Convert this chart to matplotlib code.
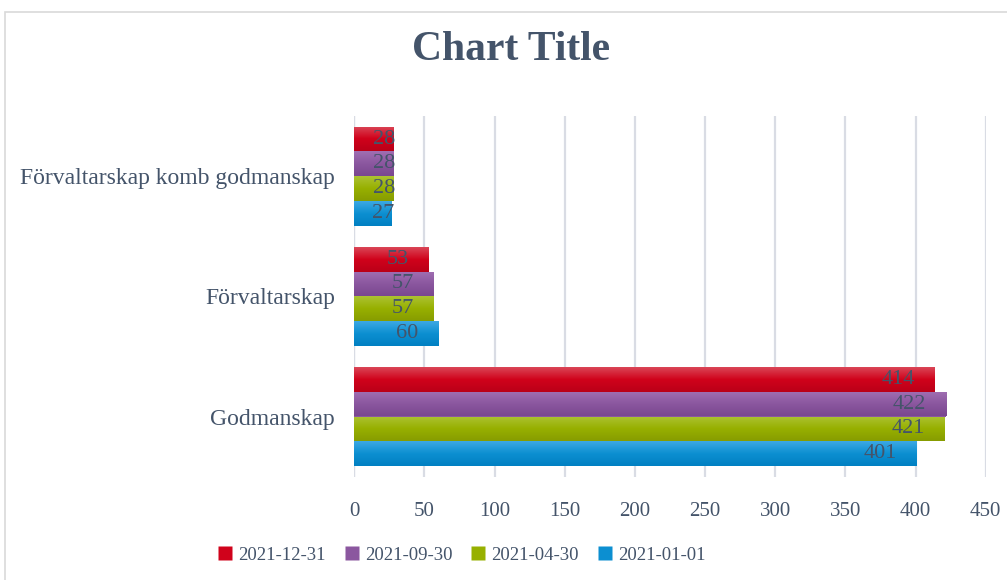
import matplotlib
matplotlib.use("Agg")
import matplotlib.pyplot as plt
import numpy as np
from matplotlib.patches import Rectangle
from matplotlib.lines import Line2D
from matplotlib.colors import LinearSegmentedColormap

categories = ["Godmanskap", "Förvaltarskap", "Förvaltarskap komb godmanskap"]
series_names = ["2021-12-31", "2021-09-30", "2021-04-30", "2021-01-01"]
values = {
    "2021-12-31": [414, 53, 28],
    "2021-09-30": [422, 57, 28],
    "2021-04-30": [421, 57, 28],
    "2021-01-01": [401, 60, 27],
}
colors = {
    "2021-12-31": ("#DA4556", "#D0021B", "#BA0018"),
    "2021-09-30": ("#A06FB2", "#8B579F", "#7A4790"),
    "2021-04-30": ("#ACC232", "#97B000", "#879C00"),
    "2021-01-01": ("#3DA8E3", "#0C8FD1", "#0080C2"),
}
xticks = [0, 50, 100, 150, 200, 250, 300, 350, 400, 450]

TEXT = "#44546A"
GRID = "#D9DCE4"
FONT = "Liberation Serif"
plt.rcParams["font.family"] = [FONT, "DejaVu Serif"]

fig = plt.figure(figsize=(10.07, 5.80), dpi=100)
# chart border
fig.patches.append(Rectangle((5 / 1007, -0.1), 1.2, 1 - 12 / 580 + 0.1,
                             transform=fig.transFigure, fill=False,
                             edgecolor="#D9D9D9", linewidth=1.2, zorder=0))

ax = fig.add_axes([354.3 / 1007, 1 - 476.6 / 580, (985.7 - 354.3) / 1007, 360.6 / 580])

n = len(series_names)
group_h = 0.823
bar_h = group_h / n
y = np.arange(len(categories))

for i, name in enumerate(series_names):
    offs = group_h / 2 - bar_h * (i + 0.5)
    bars = ax.barh(y + offs, values[name], height=bar_h, color=colors[name][1],
                   edgecolor="none", zorder=2)
    cmap = LinearSegmentedColormap.from_list(name, list(colors[name]))
    grad = np.linspace(0, 1, 64).reshape(-1, 1)
    for b in bars:
        x0, y0, w, h = b.get_x(), b.get_y(), b.get_width(), b.get_height()
        im = ax.imshow(grad, cmap=cmap, aspect="auto", extent=(x0, x0 + w, y0, y0 + h),
                       origin="upper", zorder=3, interpolation="bilinear")
        im.set_clip_path(b)
    for b, v in zip(bars, values[name]):
        cy = b.get_y() + b.get_height() / 2
        off = -14.5 if v > 40 else 1.5
        ax.annotate(str(v), (v, cy), xytext=(off, 0), textcoords="offset points",
                    ha="right", va="center", fontsize=16, color=TEXT, zorder=5)

ax.set_xlim(0, 450)
ax.set_ylim(-0.5, len(categories) - 0.5)
ax.set_xticks(xticks)
ax.set_xticklabels([str(t) for t in xticks])
ax.set_yticks(y)
ax.set_yticklabels(categories)
ax.tick_params(axis="x", length=0, pad=18, labelsize=15, labelcolor=TEXT)
ax.tick_params(axis="y", length=0, pad=14, labelsize=17, labelcolor=TEXT)
ax.grid(axis="x", color=GRID, linewidth=1.6, zorder=0)
ax.set_axisbelow(True)
for s in ax.spines.values():
    s.set_visible(False)
ax.axvline(0, color=GRID, linewidth=1.6, zorder=1)

fig.text(511 / 1007, 1 - 50 / 580, "Chart Title", ha="center", va="center",
         fontsize=30, fontweight="bold", color=TEXT)

handles = [Line2D([], [], marker="s", linestyle="none", markersize=10,
                  markerfacecolor=colors[nm][1], markeredgecolor="none") for nm in series_names]
fig.legend(handles, series_names, loc="center", bbox_to_anchor=(462 / 1007, 1 - 555 / 580),
           ncol=4, frameon=False, fontsize=13.5, labelcolor=TEXT, handlelength=0.7,
           handletextpad=0.35, columnspacing=1.05)

fig.savefig("out.png", dpi=100)
